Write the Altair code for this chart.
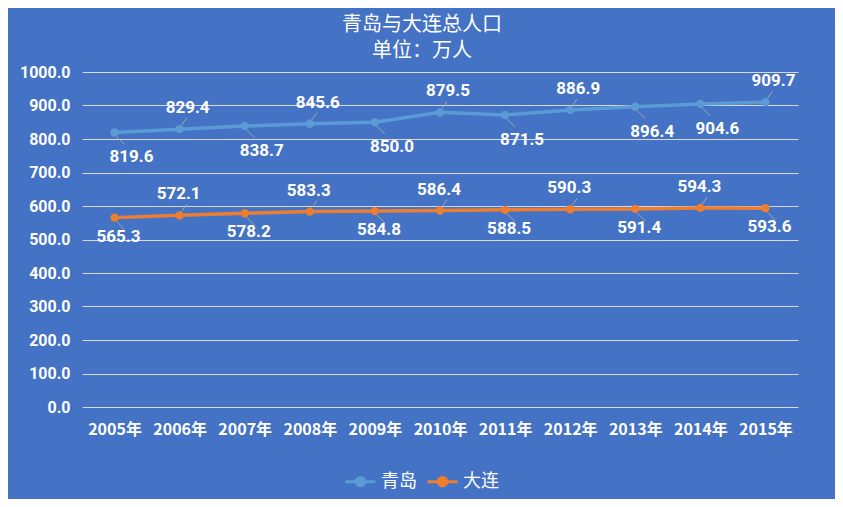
import altair as alt
import pandas as pd

years = ["2005年", "2006年", "2007年", "2008年", "2009年", "2010年",
         "2011年", "2012年", "2013年", "2014年", "2015年"]
qingdao = [819.6, 829.4, 838.7, 845.6, 850.0, 879.5, 871.5, 886.9, 896.4, 904.6, 909.7]
dalian = [565.3, 572.1, 578.2, 583.3, 584.8, 586.4, 588.5, 590.3, 591.4, 594.3, 593.6]
y_ticks = [0, 100, 200, 300, 400, 500, 600, 700, 800, 900, 1000]
# label placement: 上 = above the point, 下 = below the point
qingdao_pos = ["下", "上", "下", "上", "下", "上", "下", "上", "下", "下", "上"]
dalian_pos = ["下", "上", "下", "上", "下", "上", "下", "上", "下", "上", "下"]
cities = ["青岛", "大连"]
colors = ["#5B9BD5", "#ED7D31"]

rows = []
for c, vals, poss in [("青岛", qingdao, qingdao_pos), ("大连", dalian, dalian_pos)]:
    for y, v, p in zip(years, vals, poss):
        rows.append({"year": y, "city": c, "value": v, "pos": p})
df = pd.DataFrame(rows)

FONT = "Noto Sans CJK SC"
NUMFONT = "Roboto"

x_enc = alt.X("year:N", sort=years, title=None,
              scale=alt.Scale(type="point", padding=0.5),
              axis=alt.Axis(labelAngle=0, domain=False, ticks=False, grid=False,
                            labelPadding=14, labelFontSize=16, labelFont=FONT,
                            labelFontWeight="bold", labelColor="white",
                            labelOverlap=False))
y_enc = alt.Y("value:Q", title=None,
              scale=alt.Scale(domain=[0, 1000], nice=False),
              axis=alt.Axis(values=y_ticks, format=".1f",
                            domain=False, ticks=False, gridColor="#D9D9D9",
                            gridWidth=1, labelPadding=12, labelFontSize=16,
                            labelFont=NUMFONT, labelFontWeight="bold",
                            labelColor="white", labelOverlap=False))
color_enc = alt.Color("city:N", sort=cities,
                      scale=alt.Scale(domain=cities, range=colors),
                      legend=alt.Legend(title=None, orient="none", direction="horizontal",
                                        legendX=262, legendY=393,
                                        symbolType="M-1,0L1,0M-0.28,0A0.28,0.28,0,1,1,0.28,0A0.28,0.28,0,1,1,-0.28,0Z",
                                        symbolSize=900, symbolStrokeWidth=3,
                                        labelFontSize=18, labelFont=FONT,
                                        labelFontWeight="normal",
                                        labelColor="white", columnPadding=4,
                                        labelOffset=4))

base = alt.Chart(df)

lines = base.mark_line(strokeWidth=3.5,
                       point=alt.OverlayMarkDef(filled=True, size=70, opacity=1)).encode(
    x=x_enc, y=y_enc, color=color_enc)

layers = [lines]

# leader lines
lead_cfg = {"上": dict(xOffset=2, x2Offset=7, yOffset=-4, y2Offset=-11),
            "下": dict(xOffset=2, x2Offset=10, yOffset=4, y2Offset=12)}
for p, cfg in lead_cfg.items():
    layers.append(base.transform_filter(alt.datum.pos == p).mark_rule(
        color="#A6A6A6", strokeWidth=1, **cfg).encode(
        x=x_enc, x2="year:N", y=y_enc, y2="value:Q"))

# data labels
label_cfg = {("青岛", "上"): (8, -21), ("青岛", "下"): (17, 25),
             ("大连", "上"): (-1, -21), ("大连", "下"): (4, 19)}
for (c, p), (dx, dy) in label_cfg.items():
    layers.append(base.transform_filter(
        (alt.datum.city == c) & (alt.datum.pos == p)).mark_text(
        dx=dx, dy=dy, color="white", fontSize=17, font=NUMFONT,
        fontWeight="bold", baseline="middle", align="center").encode(
        x=x_enc, y=y_enc,
        text=alt.Text("value:Q", format=".1f")))

chart = alt.layer(*layers).properties(
    width=716, height=335,
    background="#4472C4",
    padding={"left": 74, "top": 64, "right": 37, "bottom": 92},
    autosize=alt.AutoSizeParams(type="none"),
    title=alt.TitleParams(text="青岛与大连总人口", subtitle="单位：万人",
                          color="white", subtitleColor="white",
                          fontSize=20, subtitleFontSize=20, font=FONT,
                          subtitleFont=FONT, fontWeight="normal",
                          subtitleFontWeight="normal", subtitlePadding=6,
                          anchor="middle", dx=-18, offset=3),
).configure_view(stroke=None)

chart.save("out.html", embed_options={"renderer": "svg", "actions": False})
